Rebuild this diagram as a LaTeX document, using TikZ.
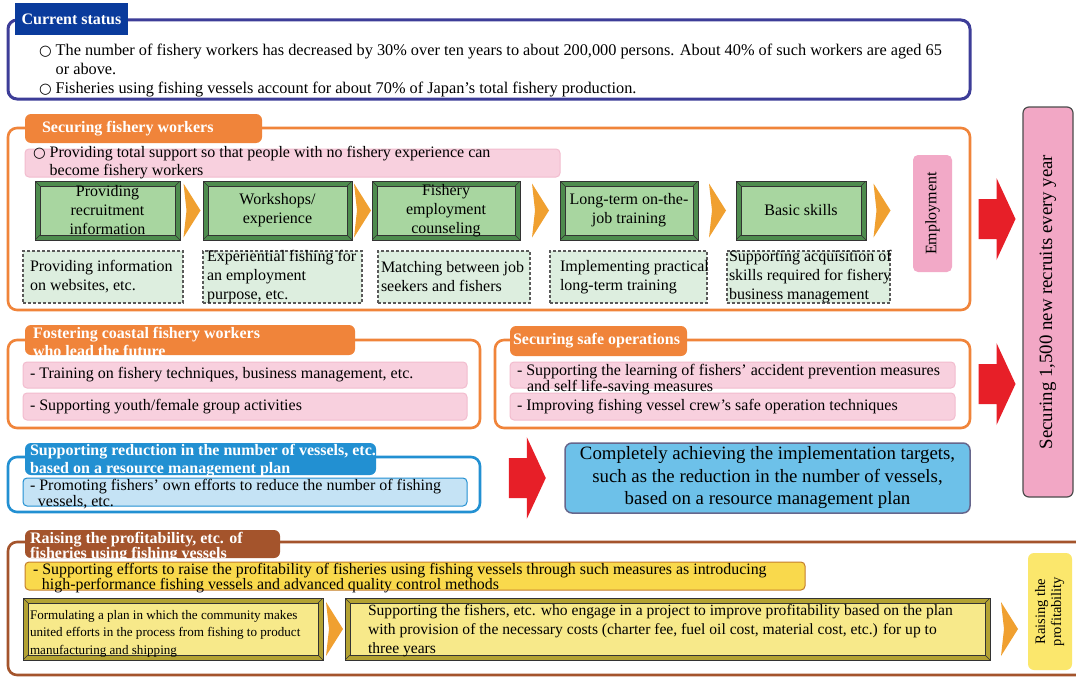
\documentclass[tikz,border=0pt]{standalone}
\usepackage{fontspec}
\usepackage{graphicx}
\setmainfont{Liberation Serif}
\newfontfamily\symf{DejaVu Sans}
\usetikzlibrary{calc}
\definecolor{stblue}{HTML}{3D3D98}
\definecolor{tabblue}{HTML}{0A3B9C}
\definecolor{org}{HTML}{F0843A}
\definecolor{pinkf}{HTML}{F8D0DE}
\definecolor{pinkd}{HTML}{F2BCCE}
\definecolor{grnl}{HTML}{A8D6A0}
\definecolor{grnd}{HTML}{4E8C4E}
\definecolor{dashf}{HTML}{DDEEDF}
\definecolor{emppink}{HTML}{F2A9C7}
\definecolor{recpink}{HTML}{F2A7C5}
\definecolor{redarr}{HTML}{E71F28}
\definecolor{secblue}{HTML}{2290D2}
\definecolor{lblue}{HTML}{C5E3F5}
\definecolor{cblue}{HTML}{6DC1E9}
\definecolor{brn}{HTML}{A4542C}
\definecolor{ybar}{HTML}{F9D94C}
\definecolor{ybord}{HTML}{C47E2C}
\definecolor{yl}{HTML}{F7E98A}
\definecolor{yd}{HTML}{B3A232}
\definecolor{chevc}{HTML}{F0A030}
\definecolor{rboxc}{HTML}{FBE76C}
\newcommand{\circsym}{{\symf\bfseries\fontsize{14.5}{14.5}\selectfont ○}}
\begin{document}
\begin{tikzpicture}[x=1pt,y=-1pt,
  every node/.style={inner sep=0pt, outer sep=0pt},
  nw/.style={anchor=north west},
  frame/.style={nw, draw=#1, line width=2.6pt, rounded corners=9pt},
  tabbox/.style={nw, fill=#1, rounded corners=6pt},
  tabtext/.style={anchor=west, align=left, text=white, font=\fontsize{16}{18}\selectfont\bfseries},
  bar/.style 2 args={nw, fill=#1, draw=#2, line width=1pt, rounded corners=4pt},
  txt/.style={anchor=west, align=left, font=\fontsize{16}{19}\selectfont},
  bevel/.style 2 args={nw, draw=black!80, line width=0.6pt, fill=#2,
    path picture={
      \fill[#1, draw=black!80, line width=0.5pt] ([shift={(5,5)}]path picture bounding box.north west) rectangle ([shift={(-5,-5)}]path picture bounding box.south east);
      \draw[black!80, line width=0.5pt] (path picture bounding box.north west) -- ([shift={(5,5)}]path picture bounding box.north west)
        (path picture bounding box.north east) -- ([shift={(-5,5)}]path picture bounding box.north east)
        (path picture bounding box.south west) -- ([shift={(5,-5)}]path picture bounding box.south west)
        (path picture bounding box.south east) -- ([shift={(-5,-5)}]path picture bounding box.south east);
    }},
  gbox/.style={bevel={grnl}{grnd}, align=center, font=\fontsize{16}{19}\selectfont, minimum height=59},
  ybox/.style={bevel={yl}{yd}, minimum height=62},
  dbox/.style={nw, draw=black!65, line width=1.4pt, dash pattern=on 3pt off 2pt, fill=dashf, minimum height=52},
  redarrow/.pic={\fill[redarr] (-18,-20) -- (0,-20) -- (0,-41) -- (19,0) -- (0,41) -- (0,20) -- (-18,20) -- cycle;},
  chevron/.pic={\fill[chevc] (-8,-27) -- (9,0) -- (-8,27) -- (-5,0) -- cycle;}
]
\useasboundingbox (0,0) rectangle (1076,677);
\fill[white] (0,0) rectangle (1076,677);

% ---------- Current status
\node[frame=stblue, line width=3pt, minimum width=962, minimum height=79] (status) at (8,20) {};
\node[nw, fill=tabblue, minimum width=113, minimum height=32, text=white, font=\fontsize{16}{18}\selectfont\bfseries] (sttab) at (15,3) {Current status};
\node[nw, font=\fontsize{16.3}{19}\selectfont] (stt) at (39,42) {\begin{tabular}{@{}l@{\hspace{4pt}}l@{}}\circsym & The number of fishery workers has decreased by 30\% over ten years to about 200,000 persons. About 40\% of such workers are aged 65\\ & or above.\\ \circsym & Fisheries using fishing vessels account for about 70\% of Japan's total fishery production.\end{tabular}};

% ---------- Securing fishery workers
\node[frame=org, minimum width=962, minimum height=182] (secw) at (8,128) {};
\node[tabbox=org, minimum width=237, minimum height=29] (secwtab) at (25,114) {};
\node[tabtext] (secwtabt) at ([xshift=17]secwtab.west) {Securing fishery workers};
\node[bar={pinkf}{pinkd}, minimum width=535, minimum height=28] (pb0) at (25,149) {};
\node[anchor=west, font=\fontsize{16}{18}\selectfont] (pb0t) at ([xshift=8]pb0.west) {\begin{tabular}{@{}l@{\hspace{4pt}}l@{}}\circsym & Providing total support so that people with no fishery experience can\\ & become fishery workers\end{tabular}};

\node[gbox, minimum width=145] (g1) at (35,181) {Providing\\recruitment\\information};
\node[gbox, minimum width=149] (g2) at (203,181) {Workshops/\\experience};
\node[gbox, minimum width=148] (g3) at (372,181) {Fishery\\employment\\counseling};
\node[gbox, minimum width=138] (g4) at (560,181) {Long-term on-the-\\job training};
\node[gbox, minimum width=130] (g5) at (736,181) {Basic skills};
\node[nw, fill=emppink, rounded corners=5pt, minimum width=39, minimum height=117, font=\fontsize{16}{18}\selectfont] (emp) at (913,155) {\rotatebox{90}{Employment}};

\path (g1.east) -- (g2.west) coordinate[midway] (c12);
\path (g2.east) -- (g3.west) coordinate[midway] (c23);
\path (g3.east) -- (g4.west) coordinate[midway] (c34);
\path (g4.east) -- (g5.west) coordinate[midway] (c45);
\path (g5.east) -- (g5.east -| emp.west) coordinate[pos=0.33] (c5e);
\pic at (c12) {chevron};
\pic at (c23) {chevron};
\pic at (c34) {chevron};
\pic at (c45) {chevron};
\pic at (c5e) {chevron};

\node[dbox, minimum width=160] (d1) at (23,251) {};
\node[dbox, minimum width=159] (d2) at (203,251) {};
\node[dbox, minimum width=152] (d3) at (378,251) {};
\node[dbox, minimum width=157] (d4) at (550,251) {};
\node[dbox, minimum width=163] (d5) at (727,251) {};
\node[txt] (d1t) at ([xshift=7]d1.west) {Providing information\\on websites, etc.};
\node[txt] (d2t) at ([xshift=4]d2.west) {Experiential fishing for\\an employment\\purpose, etc.};
\node[txt] (d3t) at ([xshift=3]d3.west) {Matching between job\\seekers and fishers};
\node[txt] (d4t) at ([xshift=10]d4.west) {Implementing practical\\long-term training};
\node[txt] (d5t) at ([xshift=2]d5.west) {Supporting acquisition of\\skills required for fishery\\business management};

% ---------- Securing 1,500 new recruits
\node[nw, fill=recpink, draw=black!70, line width=1.2pt, rounded corners=6pt, minimum width=50, minimum height=390, font=\fontsize{18.8}{20}\selectfont] (rec) at (1023,107) {\rotatebox{90}{Securing 1,500 new recruits every year}};
\path (secw.east) -- (secw.east -| rec.west) coordinate[midway] (a1);
\pic at (a1) {redarrow};

% ---------- Fostering coastal fishery workers
\node[frame=org, minimum width=472, minimum height=88] (fost) at (8,340) {};
\node[tabbox=org, minimum width=330, minimum height=30] (fosttab) at (25,325) {};
\node[tabtext] (fosttabt) at ([xshift=8,yshift=-2]fosttab.west) {Fostering coastal fishery workers\\who lead the future};
\node[bar={pinkf}{pinkd}, minimum width=444, minimum height=26] (fb1) at (23,362) {};
\node[bar={pinkf}{pinkd}, minimum width=444, minimum height=27] (fb2) at (23,393) {};
\node[txt] (fb1t) at ([xshift=7]fb1.west) {- Training on fishery techniques, business management, etc.};
\node[txt] (fb2t) at ([xshift=7]fb2.west) {- Supporting youth/female group activities};

% ---------- Securing safe operations
\node[frame=org, minimum width=475, minimum height=88] (safe) at (495,340) {};
\node[tabbox=org, minimum width=177, minimum height=30] (safetab) at (510,326) {};
\node[tabtext] (safetabt) at ([xshift=3]safetab.west) {Securing safe operations};
\node[bar={pinkf}{pinkd}, minimum width=445, minimum height=26] (sb1) at (510,362) {};
\node[bar={pinkf}{pinkd}, minimum width=445, minimum height=27] (sb2) at (510,393) {};
\node[txt, font=\fontsize{16}{16}\selectfont] (sb1t) at ([xshift=7,yshift=-5]sb1.west) {- Supporting the learning of fishers' accident prevention measures\\\hspace*{10pt}and self life-saving measures};
\node[txt] (sb2t) at ([xshift=7]sb2.west) {- Improving fishing vessel crew's safe operation techniques};
\path (safe.east) -- (safe.east -| rec.west) coordinate[midway] (a2);
\pic at (a2) {redarrow};

% ---------- Supporting reduction
\node[frame=secblue, minimum width=472, minimum height=55] (red) at (8,457) {};
\node[tabbox=secblue, minimum width=351, minimum height=32] (redtab) at (25,443) {};
\node[tabtext] (redtabt) at ([xshift=5,yshift=-2]redtab.west) {Supporting reduction in the number of vessels, etc.\\based on a resource management plan};
\node[bar={lblue}{secblue}, minimum width=444, minimum height=28] (rb) at (23,478) {};
\node[txt, font=\fontsize{16}{16}\selectfont] (rbt) at ([xshift=7,yshift=-2]rb.west) {- Promoting fishers' own efforts to reduce the number of fishing\\\hspace*{8pt}vessels, etc.};

\node[nw, fill=cblue, draw=black!75!blue!60, line width=1.5pt, rounded corners=7pt, minimum width=405, minimum height=70, align=center, font=\fontsize{18.8}{22.5}\selectfont] (comp) at (565,443) {Completely achieving the implementation targets,\\such as the reduction in the number of vessels,\\based on a resource management plan};
\path (red.east) -- (red.east -| comp.west) coordinate[pos=0.55] (a3);
\pic at ([yshift=6.5]a3) {redarrow};

% ---------- Raising the profitability
\node[frame=brn, minimum width=1090, minimum height=133] (rais) at (8,542) {};
\node[tabbox=brn, minimum width=255, minimum height=28] (raistab) at (25,530) {};
\node[tabtext, font=\fontsize{16}{15}\selectfont\bfseries] (raistabt) at ([xshift=5,yshift=-3.5]raistab.west) {Raising the profitability, etc. of\\fisheries using fishing vessels};
\node[bar={ybar}{ybord}, minimum width=780, minimum height=28] (yb) at (25,562) {};
\node[txt, font=\fontsize{15.9}{15}\selectfont] (ybt) at ([xshift=8,yshift=-2]yb.west) {- Supporting efforts to raise the profitability of fisheries using fishing vessels through such measures as introducing\\\hspace*{9pt}high-performance fishing vessels and advanced quality control methods};
\node[ybox, minimum width=300] (y1) at (23,598) {};
\node[ybox, minimum width=645] (y2) at (345,598) {};
\node[txt, font=\fontsize{13.1}{17.5}\selectfont] (y1t) at ([xshift=7,yshift=-4.5]y1.west) {Formulating a plan in which the community makes\\united efforts in the process from fishing to product\\manufacturing and shipping};
\node[txt, font=\fontsize{15.6}{19}\selectfont] (y2t) at ([xshift=23,yshift=-2]y2.west) {Supporting the fishers, etc. who engage in a project to improve profitability based on the plan\\with provision of the necessary costs (charter fee, fuel oil cost, material cost, etc.) for up to\\three years};
\node[nw, fill=rboxc, rounded corners=6pt, minimum width=44, minimum height=117, font=\fontsize{14.5}{16}\selectfont] (rbox) at (1028,553) {\rotatebox{90}{\begin{tabular}{@{}c@{}}Raising the\\profitability\end{tabular}}};
\path (y1.east) -- (y2.west) coordinate[midway] (cy12);
\path (y2.east) -- (y2.east -| rbox.west) coordinate[midway] (cy2r);
\pic at (cy12) {chevron};
\pic at (cy2r) {chevron};
\end{tikzpicture}
\end{document}
